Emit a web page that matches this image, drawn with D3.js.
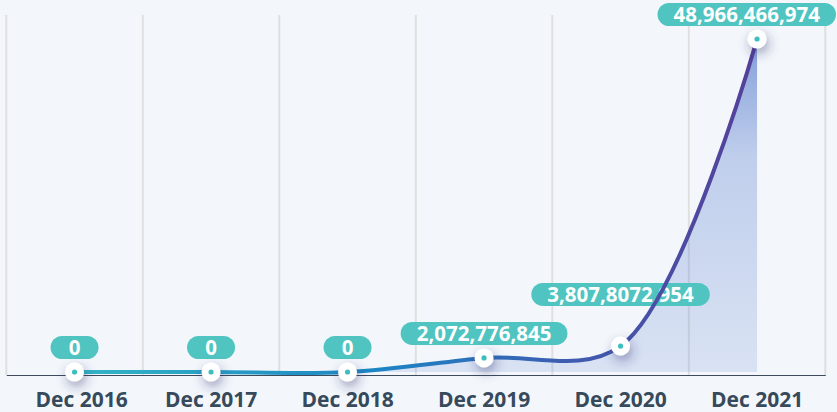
<!DOCTYPE html>
<html>
<head>
<meta charset="utf-8">
<script src="https://cdn.jsdelivr.net/npm/d3@7"></script>
<style>
  html, body { margin: 0; padding: 0; background: #f3f7fb; }
  svg { display: block; font-family: "Open Sans", sans-serif; }
</style>
</head>
<body>
<div id="chart"></div>
<script>
// data
const months = ["Dec 2016", "Dec 2017", "Dec 2018", "Dec 2019", "Dec 2020", "Dec 2021"];
const values = [0, 0, 0, 2072776845, 3807807295, 48966466974];
const valueLabels = ["0", "0", "0", "2,072,776,845", "3,807,8072,954", "48,966,466,974"];

const width = 837, height = 412;
const plot = { left: 6.3, right: 825.3, top: 15, bottom: 375 };

const svg = d3.select("#chart").append("svg")
    .attr("width", width).attr("height", height);

const defs = svg.append("defs");

// line gradient: teal -> blue -> purple
const lg = defs.append("linearGradient").attr("id", "lineGrad")
    .attr("gradientUnits", "userSpaceOnUse")
    .attr("x1", 74).attr("x2", 757).attr("y1", 0).attr("y2", 0);
lg.append("stop").attr("offset", "0%").attr("stop-color", "#33b6c6");
lg.append("stop").attr("offset", "45%").attr("stop-color", "#1c84c4");
lg.append("stop").attr("offset", "72%").attr("stop-color", "#3d5db1");
lg.append("stop").attr("offset", "100%").attr("stop-color", "#563f98");

// area gradient (vertical)
const ag = defs.append("linearGradient").attr("id", "areaGrad")
    .attr("gradientUnits", "userSpaceOnUse")
    .attr("x1", 0).attr("x2", 0).attr("y1", 39).attr("y2", 372);
ag.append("stop").attr("offset", "0%").attr("stop-color", "rgb(70,110,200)").attr("stop-opacity", 0.65);
ag.append("stop").attr("offset", "35%").attr("stop-color", "rgb(70,110,200)").attr("stop-opacity", 0.3);
ag.append("stop").attr("offset", "100%").attr("stop-color", "rgb(70,110,200)").attr("stop-opacity", 0.15);

// point shadow
const f = defs.append("filter").attr("id", "shadow")
    .attr("x", "-200%").attr("y", "-200%").attr("width", "500%").attr("height", "500%");
f.append("feDropShadow").attr("dx", 2).attr("dy", 5).attr("stdDeviation", 6)
    .attr("flood-color", "#2a2f70").attr("flood-opacity", 0.45);

// scales
const x = d3.scaleBand().domain(months).range([plot.left, plot.right]).padding(0);
const cx = d => x(d) + x.bandwidth() / 2;
const y = d3.scaleLinear().domain([0, d3.max(values)]).range([372, 39]);

const data = months.map((m, i) => ({ m, v: values[i], label: valueLabels[i] }));

// vertical grid lines at band edges
const edges = months.map(m => x(m)).concat([x(months[months.length - 1]) + x.bandwidth()]);
svg.append("g").selectAll("line").data(edges).join("line")
    .attr("x1", d => d).attr("x2", d => d)
    .attr("y1", plot.top).attr("y2", plot.bottom)
    .attr("stroke", "#dfdfdf").attr("stroke-width", 2);

const curve = d3.curveCatmullRom.alpha(0.5);

// area
const area = d3.area().x(d => cx(d.m)).y0(y(0)).y1(d => y(d.v)).curve(curve);
svg.append("path").datum(data).attr("fill", "url(#areaGrad)").attr("d", area);

// x axis
const axis = svg.append("g").attr("transform", `translate(0,${plot.bottom})`)
    .call(d3.axisBottom(x).tickSize(0).tickSizeOuter(0).tickPadding(17));
axis.select(".domain").attr("stroke", "#3d4b5c").attr("stroke-width", 1);
axis.selectAll("text")
    .attr("font-family", "Open Sans").attr("font-size", 21).attr("font-weight", 700)
    .attr("fill", "#374a5b")
    .attr("dx", (d, i) => i === 0 ? 7 : 0);

// value labels (pills)
const labelG = svg.append("g");
const placed = [];
data.forEach(d => {
    const g = labelG.append("g");
    const t = g.append("text").text(d.label)
        .attr("font-size", 20.5).attr("font-weight", 700).attr("fill", "#fff")
        .attr("text-anchor", "middle").attr("dy", "0.35em");
    const tw = t.node().getComputedTextLength();
    const w = Math.max(48, tw + 32), h = 23;
    let bx = cx(d.m) - w / 2;
    if (bx + w > width - 1) bx = width - 1 - w;
    let by = y(d.v) - 13 - h;
    placed.forEach(p => {
        if (bx < p.x + p.w && bx + w > p.x && by < p.y + p.h && by + h > p.y) {
            by = p.y - 16 - h;
        }
    });
    placed.push({ x: bx, y: by, w, h });
    g.insert("rect", "text")
        .attr("x", bx).attr("y", by).attr("width", w).attr("height", h)
        .attr("rx", h / 2).attr("fill", "#4fc4c0");
    t.attr("x", bx + w / 2).attr("y", by + h / 2);
});

// line
const line = d3.line().x(d => cx(d.m)).y(d => y(d.v)).curve(curve);
svg.append("path").datum(data).attr("fill", "none")
    .attr("stroke", "url(#lineGrad)").attr("stroke-width", 4)
    .attr("stroke-linecap", "round").attr("d", line);

// points
const pts = svg.append("g").selectAll("g").data(data).join("g")
    .attr("transform", d => `translate(${cx(d.m)},${y(d.v)})`);
pts.append("circle").attr("r", 9.5).attr("fill", "#fff").attr("filter", "url(#shadow)");
pts.append("circle").attr("r", 2.6).attr("fill", "#3cbfbd");
</script>
</body>
</html>
